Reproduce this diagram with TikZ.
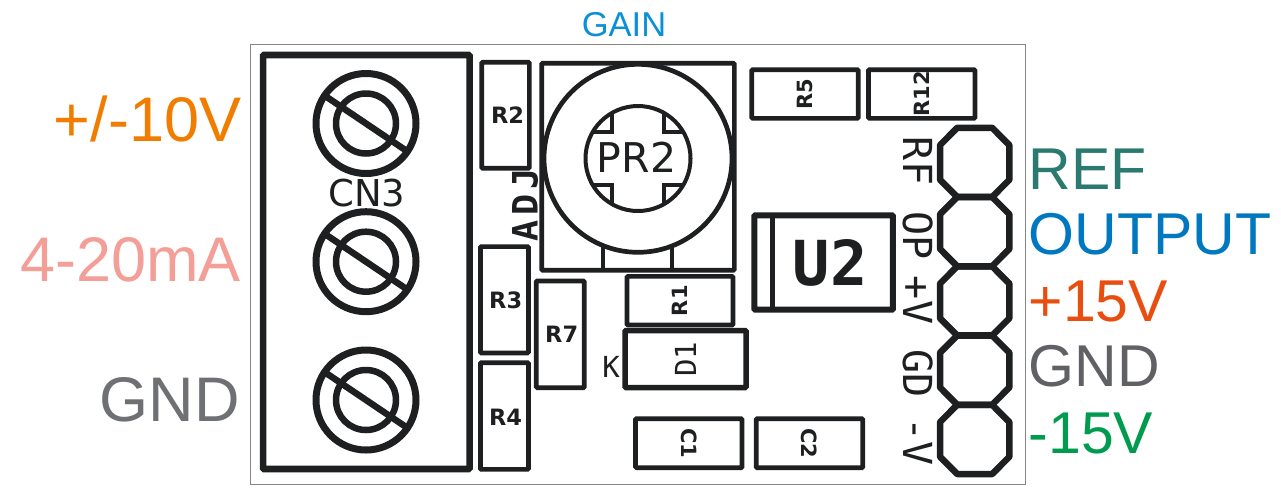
\documentclass[tikz,border=0pt]{standalone}
\usepackage{fontspec}
\setmainfont{Liberation Sans}
\newfontfamily\pcbfont{DejaVu Sans Mono}
\newfontfamily\pcbwide[LetterSpace=14]{DejaVu Sans Mono}
\newfontfamily\pcbsans{DejaVu Sans}
\definecolor{pcbink}{HTML}{1D1F20}
\definecolor{boardgray}{HTML}{858585}
\definecolor{sigorange}{HTML}{F07D00}
\definecolor{sigpink}{HTML}{F49E98}
\definecolor{siggray}{HTML}{6E7073}
\definecolor{gnddark}{HTML}{5F6164}
\definecolor{sigteal}{HTML}{2B7A70}
\definecolor{sigblue}{HTML}{0078C0}
\definecolor{sigred}{HTML}{E84E0F}
\definecolor{siggreen}{HTML}{009B4E}
\definecolor{gainblue}{HTML}{0A90D6}
\tikzset{
    partbox/.style={draw=pcbink, line width=4.7pt, rounded corners=1pt, outer sep=0pt, inner sep=0pt},
    parttext/.style={text=pcbink, inner sep=0pt, font=\pcbsans\bfseries\fontsize{21}{21}\selectfont},
    tallertext/.style={text=pcbink, inner sep=0pt, font=\pcbsans\bfseries\fontsize{22.5}{22.5}\selectfont},
    thinlabel/.style={text=pcbink, inner sep=0pt, font=\pcbfont\fontsize{40}{40}\selectfont},
    ring/.style={circle, draw=pcbink, outer sep=0pt, inner sep=0pt},
    pinline/.style={draw=pcbink, line width=6.5pt, line join=round},
    leftlabel/.style={anchor=base east, inner sep=0pt, font=\fontsize{63}{63}\selectfont},
    rightlabel/.style={anchor=base west, inner sep=0pt, font=\fontsize{59}{59}\selectfont}
}
\begin{document}
\begin{tikzpicture}[x=1pt, y=-1pt]
    \useasboundingbox (0,0) rectangle (1281,499);

    % board
    \node[draw=boardgray, line width=1pt, minimum width=775.5pt, minimum height=439.5pt, inner sep=0pt] (board) at (638,264.5) {};
    \node[anchor=base, inner sep=0pt, text=gainblue, font=\fontsize{34.5}{34.5}\selectfont] (gain) at (624,36) {GAIN};

    % terminal block
    \node[partbox, line width=6.6pt, minimum width=206.5pt, minimum height=414pt] (cn3) at (366.3,262) {};
    \foreach \name/\ypos in {a/123.5, b/261.7, c/400} {
        \node[ring, line width=7pt, minimum size=100pt] (outer\name) at (366,\ypos) {};
        \node[ring, line width=6.5pt, minimum size=60pt] (inner\name) at (366,\ypos) {};
        \draw[pcbink, line width=6.5pt] (outer\name.146) -- (outer\name.-34);
    }
    \node[thinlabel, font=\pcbsans\fontsize{37}{37}\selectfont] (cn3text) at (366.7,193) {CN3};

    % resistors, upright text
    \node[partbox, minimum width=47.7pt, minimum height=106pt] (r2) at (505.5,115.3) {};
    \node[tallertext] (r2text) at (507.5,115.3) {R2};
    \node[partbox, minimum width=48pt, minimum height=106.4pt] (r3) at (504.4,299.8) {};
    \node[tallertext] (r3text) at (505.7,300) {R3};
    \node[partbox, minimum width=48pt, minimum height=106.7pt] (r4) at (504.4,416) {};
    \node[tallertext] (r4text) at (505.5,417) {R4};
    \node[partbox, minimum width=48pt, minimum height=106.7pt] (r7) at (560.3,334.3) {};
    \node[tallertext] (r7text) at (561.7,334.3) {R7};
    \node[inner sep=0pt, text=pcbink, rotate=90, font=\pcbwide\bfseries\fontsize{35}{35}\selectfont] (adj) at (525,205) {ADJ};

    % pot
    \node[partbox, minimum width=192.7pt, minimum height=207pt] (potbox) at (638,166.8) {};
    \node[ring, line width=4.7pt, minimum size=188pt] (dial) at (638,158.3) {};
    \node[ring, line width=4pt, minimum size=105pt] (hub) at (638,158.5) {};
    \foreach \a/\b in {120/150, 60/30, 240/210, 300/330}
        \draw[pcbink, line width=4pt] (hub.\a) |- (hub.\b);
    \foreach \a in {248.3, 291.7}
        \draw[pcbink, line width=4pt] (dial.\a) -- (dial.\a |- potbox.south);
    \node[thinlabel, font=\pcbsans\fontsize{41}{41}\selectfont] (pr2) at (636.5,157) {PR2};

    % parts with turned text
    \node[partbox, minimum width=106pt, minimum height=48.7pt] (r1) at (680,300.7) {};
    \node[parttext, rotate=90] (r1text) at (r1) {R1};
    \node[partbox, line width=5.5pt, minimum width=121pt, minimum height=57pt] (d1) at (685.5,359) {};
    \node[thinlabel, rotate=90, font=\pcbfont\fontsize{29}{29}\selectfont] (d1text) at (d1) {D1};
    \node[thinlabel, font=\pcbfont\fontsize{29}{29}\selectfont] (ktext) at (611,366.7) {K};
    \node[partbox, minimum width=106.5pt, minimum height=49pt] (c1) at (688.8,443.2) {};
    \node[parttext, rotate=-90] (c1text) at (c1) {C1};
    \node[partbox, minimum width=106.5pt, minimum height=49pt] (c2) at (809.5,443.2) {};
    \node[parttext, rotate=-90] (c2text) at (c2) {C2};
    \node[partbox, minimum width=106.5pt, minimum height=48.7pt] (r5) at (805,94) {};
    \node[parttext, rotate=90] (r5text) at (r5) {R5};
    \node[partbox, minimum width=106.5pt, minimum height=48.7pt] (r12) at (921.7,94) {};
    \node[parttext, rotate=90] (r12text) at (r12) {R12};

    % U2
    \node[partbox, line width=6pt, minimum width=138.7pt, minimum height=94.4pt] (u2box) at (823.6,262.5) {};
    \draw[pcbink, line width=5.5pt] ([xshift=18pt]u2box.north west) -- ([xshift=18pt]u2box.south west);
    \node[inner sep=0pt, text=pcbink, font=\pcbfont\bfseries\fontsize{62}{62}\selectfont] (u2) at (830,263) {U2};

    % header
    \foreach \name/\ypos/\txt/\tpos in {1/162.4/RF/161, 2/231.6/OP/235.5, 3/300.9/+V/300, 4/370.1/GD/373.3, 5/439.4/-V/441.7} {
        \coordinate (pin\name) at (974.7,\ypos);
        \draw[pinline] ([shift={(-17.4,-34.65)}]pin\name) -- ++(34.8,0) -- ++(17.25,17.3) -- ++(0,34.7)
            -- ++(-17.25,17.3) -- ++(-34.8,0) -- ++(-17.25,-17.3) -- ++(0,-34.7) -- cycle;
        \node[thinlabel, rotate=-90] (pintext\name) at (918,\tpos) {\txt};
    }

    % signals
    \node[leftlabel, text=sigorange] (lab10v) at (241.5,141.5) {+/-10V};
    \node[leftlabel, text=sigpink] (lab420) at (241,281.5) {4-20mA};
    \node[leftlabel, text=siggray] (labgnd) at (240,421.5) {GND};
    \node[rightlabel, text=sigteal] (labref) at (1028.5,189) {REF};
    \node[rightlabel, text=sigblue] (labout) at (1028.5,254.5) {OUTPUT};
    \node[rightlabel, text=sigred] (labp15) at (1028.5,321) {+15V};
    \node[rightlabel, text=gnddark] (labgnd2) at (1028.5,386.5) {GND};
    \node[rightlabel, text=siggreen] (labm15) at (1028.5,453) {-15V};
\end{tikzpicture}
\end{document}
